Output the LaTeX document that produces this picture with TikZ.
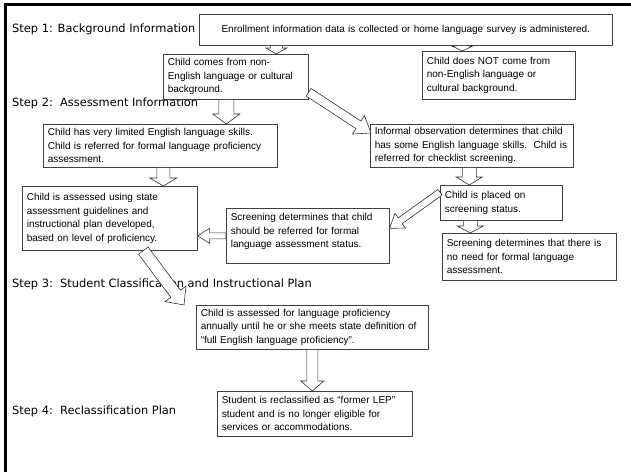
\documentclass[tikz,border=0pt]{standalone}
\usepackage{fontspec}
\setmainfont{Liberation Sans}
\newfontfamily\stepfont{DejaVu Sans}
\usetikzlibrary{calc}

% hollow block arrow: tail, tip, shaft half width, head half width, head length
\newcommand{\blockarrow}[5]{%
  \coordinate (ba-s) at (#1);
  \coordinate (ba-t) at (#2);
  \coordinate (ba-h) at ($(ba-t)!#5!(ba-s)$);
  \draw[hollow] ($(ba-s)!#3!90:(ba-t)$) -- ($(ba-h)!#3!-90:(ba-s)$) -- ($(ba-h)!#4!-90:(ba-s)$)
    -- (ba-t) -- ($(ba-h)!#4!90:(ba-s)$) -- ($(ba-h)!#3!90:(ba-s)$) -- ($(ba-s)!#3!-90:(ba-t)$) -- cycle;%
}

\begin{document}
\begin{tikzpicture}[x=1pt,y=-1pt,
    box/.style={draw=black!75,line width=0.6pt,fill=white,anchor=north west,align=left,
      inner xsep=4.5pt,inner ysep=3pt,font=\fontsize{10}{13.5}\selectfont},
    steplabel/.style={anchor=west,inner sep=0pt,font=\stepfont\fontsize{11.4}{13}\selectfont},
    hollow/.style={draw=black!80,line width=0.6pt,fill=white,line join=miter}
]
\useasboundingbox (0,0) rectangle (631,472);
\draw[line width=3pt] (5.5,472) -- (5.5,4.5) -- (631,4.5);

% step labels
\node[steplabel] (step1) at (12,29) {Step 1: Background Information};
\node[steplabel] (step2) at (12,103) {Step 2:\ \ Assessment Information};
\node[steplabel] (step3) at (12,284) {Step 3:\ \ Student Classification and Instructional Plan};
\node[steplabel] (step4) at (12,411) {Step 4:\ \ Reclassification Plan};

% boxes
\node[box,align=center,text width=404pt,minimum height=31pt] (enrol) at (199,14)
  {Enrollment information data is collected or home language survey is administered.};
\node[box,text width=136pt,minimum height=45pt] (nonen) at (163,54)
  {Child comes from non-\\English language or cultural\\background.};
\node[box,text width=144pt,minimum height=48pt] (noten) at (422,51)
  {Child does NOT come from\\non-English language or\\cultural background.};
\node[box,text width=225pt,minimum height=43pt] (limited) at (43,124)
  {Child has very limited English language skills.\\Child is referred for formal language proficiency\\assessment.};
\node[box,text width=194pt,minimum height=43pt] (informal) at (370,124)
  {Informal observation determines that child\\has some English language skills.\ \ Child is\\referred for checklist screening.};
\node[box,text width=166pt,minimum height=64pt] (assessed) at (22,186)
  {Child is assessed using state\\assessment guidelines and\\instructional plan developed,\\based on level of proficiency.};
\node[box,text width=113pt,minimum height=35pt] (placed) at (440,185)
  {Child is placed on\\screening status.};
\node[box,text width=154pt,minimum height=55pt] (referred) at (226,208)
  {Screening determines that child\\should be referred for formal\\language assessment status.\\[-3pt]\mbox{}};
\node[box,text width=165pt,minimum height=47pt] (noneed) at (442,233)
  {Screening determines that there is\\no need for formal language\\assessment.};
\node[box,text width=223pt,minimum height=44pt] (annual) at (196,305)
  {Child is assessed for language proficiency\\annually until he or she meets state definition of\\“full English language proficiency”.};
\node[box,text width=186pt,minimum height=45pt] (reclass) at (217,391)
  {Student is reclassified as “former LEP”\\student and is no longer eligible for\\services or accommodations.};

% arrows
\coordinate (a1) at ([xshift=40.5pt]nonen.north);
\blockarrow{a1 |- enrol.south}{a1}{6pt}{10.5pt}{6pt}
\coordinate (a2) at ([xshift=-36.5pt]noten.north);
\blockarrow{a2 |- enrol.south}{a2}{6pt}{10.5pt}{5pt}
\coordinate (a3) at ([xshift=-9.5pt]nonen.south);
\blockarrow{a3}{a3 |- limited.north}{7.5pt}{13.5pt}{10pt}
\blockarrow{[yshift=-15.5pt]nonen.east}{[xshift=1pt,yshift=-9pt]informal.north west}{4.5pt}{11pt}{15pt}
\coordinate (a5) at ([xshift=3pt]limited.south);
\blockarrow{a5}{a5 |- assessed.north}{6.5pt}{13.5pt}{8pt}
\coordinate (a6) at ([xshift=-2.5pt]informal.south);
\blockarrow{a6}{a6 |- placed.north}{7pt}{13pt}{8pt}
\blockarrow{[yshift=10.5pt]placed.west}{[yshift=7.5pt]referred.east}{3.5pt}{9pt}{13pt}
\coordinate (a8) at ([xshift=-31pt]placed.south);
\blockarrow{a8}{a8 |- noneed.north}{7pt}{13pt}{7pt}
\blockarrow{referred.west}{referred.west -| assessed.east}{3pt}{7.5pt}{12pt}
\blockarrow{[xshift=33.5pt]assessed.south}{[xshift=-12pt]annual.north west}{6pt}{13pt}{14pt}
\blockarrow{annual.south}{annual.south |- reclass.north}{5.5pt}{11.5pt}{10pt}
\end{tikzpicture}
\end{document}
